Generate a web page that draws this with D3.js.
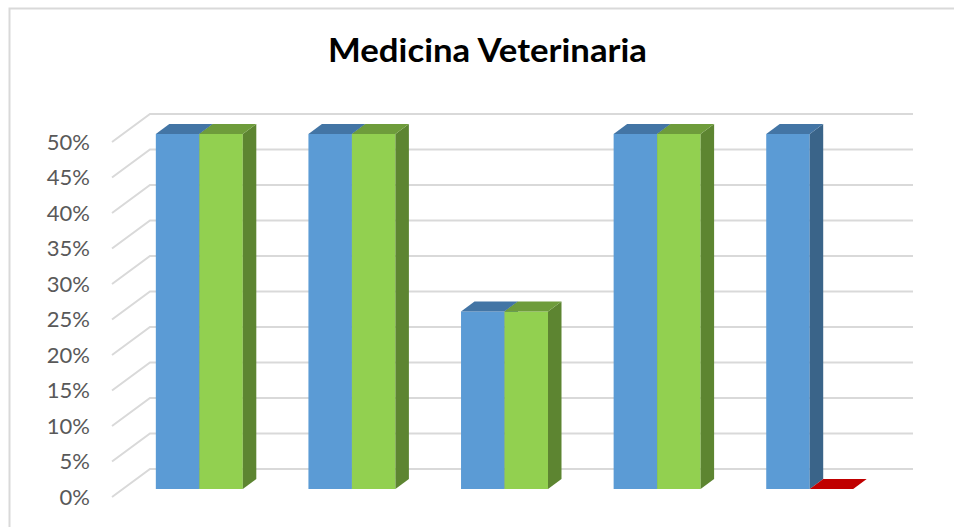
<!DOCTYPE html>
<html>
<head>
<meta charset="utf-8">
<script src="https://cdn.jsdelivr.net/npm/d3@7"></script>
<style>
  body { margin: 0; background: #fff; }
  svg { display: block; }
</style>
</head>
<body>
<script>
// chart data
var categories = ["1", "2", "3", "4", "5"];
var seriesNames = ["Serie 1", "Serie 2"];
var serie1 = [0.50, 0.50, 0.25, 0.50, 0.50];
var serie2 = [0.50, 0.50, 0.25, 0.50, 0.00];
var tickValues = [0, 0.05, 0.10, 0.15, 0.20, 0.25, 0.30, 0.35, 0.40, 0.45, 0.50];

window.onload = function(){

    var w = 954, h = 527;

    var svg = d3.select("body")
        .append("svg")
        .attr("width", w)
        .attr("height", h);

    // chart border (runs off the right and bottom of the picture)
    svg.append("rect")
        .attr("x", 9.5)
        .attr("y", 8.5)
        .attr("width", 1000)
        .attr("height", 600)
        .style("fill", "#fff")
        .style("stroke", "#d9d9d9")
        .style("stroke-width", 2);

    svg.append("text")
        .attr("x", 487.5)
        .attr("y", 62)
        .attr("text-anchor", "middle")
        .attr("textLength", 319)
        .attr("lengthAdjust", "spacingAndGlyphs")
        .style("font-family", "Lato")
        .style("font-weight", "bold")
        .style("font-size", "32px")
        .style("fill", "#000")
        .text("Medicina Veterinaria");

    // 3d projection: depth moves things right and up
    var depthX = 38, depthY = -28;
    var z0 = 0.29, z1 = 0.645; // depth taken by the bars

    var y = d3.scaleLinear().domain([0, 0.5]).range([497, 142]);
    var x = d3.scaleBand().domain(categories).range([112, 875])
        .paddingInner(0.43).paddingOuter(0.215);
    var xs = d3.scaleBand().domain(seriesNames).range([0, x.bandwidth()]);

    function pt(px, py, z){
        return [px + depthX * z, py + depthY * z];
    }

    // side wall + back wall gridlines
    var grid = svg.append("g");
    tickValues.forEach(function(t){
        var a = pt(112, y(t), 0), b = pt(112, y(t), 1), c = pt(875, y(t), 1);
        grid.append("path")
            .attr("d", d3.line()([a, b, c]))
            .style("fill", "none")
            .style("stroke", "#d9d9d9")
            .style("stroke-width", 2);
    });

    // y axis labels
    svg.append("g")
        .selectAll("text")
        .data(tickValues)
        .enter()
        .append("text")
        .attr("x", 90)
        .attr("y", function(d){ return y(d); })
        .attr("dy", "0.35em")
        .attr("text-anchor", "end")
        .style("font-family", "Lato")
        .style("font-size", "22px")
        .style("fill", "#595959")
        .text(d3.format(".0%"));

    var colors = [
        { front: "#5b9bd5", top: "#4375a5", side: "#3a6489" },
        { front: "#92d050", top: "#6e9c3b", side: "#5d8531" }
    ];
    var redTop = "#c00000";

    var bars = svg.append("g");
    categories.forEach(function(cat, i){
        [serie1[i], serie2[i]].forEach(function(v, s){
            var col = colors[s];
            var x0 = x(cat) + xs(seriesNames[s]), x1 = x0 + xs.bandwidth();
            var yb = y(0), yt = y(v);
            var poly = function(pts, fill){
                bars.append("path")
                    .attr("d", d3.line()(pts) + "Z")
                    .style("fill", fill);
            };
            if (v > 0) {
                poly([pt(x0, yb, z0), pt(x1, yb, z0), pt(x1, yt, z0), pt(x0, yt, z0)], col.front);
                poly([pt(x1, yb, z0), pt(x1, yb, z1), pt(x1, yt, z1), pt(x1, yt, z0)], col.side);
                poly([pt(x0, yt, z0), pt(x1, yt, z0), pt(x1, yt, z1), pt(x0, yt, z1)], col.top);
            } else {
                poly([pt(x0, yb, z0), pt(x1, yb, z0), pt(x1, yb, z1), pt(x0, yb, z1)], redTop);
            }
        });
    });
};
</script>
</body>
</html>
